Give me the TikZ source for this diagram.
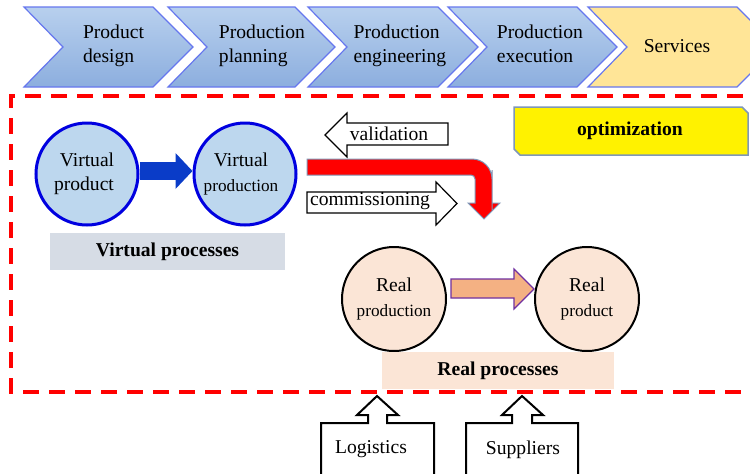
\documentclass[tikz,border=0pt]{standalone}
\usepackage{fontspec}
\setmainfont{Liberation Serif}
\usetikzlibrary{calc,arrows.meta}
\definecolor{chevtop}{HTML}{B8D0EE}
\definecolor{chevbot}{HTML}{8CAEDE}
\definecolor{chevline}{HTML}{6677EE}
\definecolor{servfill}{HTML}{FFE597}
\definecolor{vfill}{HTML}{BDD7EE}
\definecolor{vline}{HTML}{0000E0}
\definecolor{rfill}{HTML}{FBE5D6}
\definecolor{vproc}{HTML}{D6DCE5}
\definecolor{oarr}{HTML}{F4B183}
\definecolor{oline}{HTML}{7030A0}
\definecolor{barr}{HTML}{0A3CC8}
\definecolor{redfr}{HTML}{FF0000}
\definecolor{optline}{HTML}{7F97B8}
\begin{document}
\begin{tikzpicture}[x=1pt,y=-1pt,
  every node/.style={font=\fontsize{19.6}{24.5}\selectfont, inner sep=0pt},
  chev/.style={draw=chevline, line width=1.2pt, top color=chevtop, bottom color=chevbot},
  servchev/.style={draw=chevline, line width=1.2pt, fill=servfill},
  frame/.style={draw=redfr, line width=4.5pt, dash pattern=on 16pt off 10pt},
  vcirc/.style={circle, draw=vline, line width=3pt, fill=vfill, minimum size=102pt, align=center},
  rcirc/.style={circle, draw=black, line width=2pt, fill=rfill, minimum size=104pt, align=center},
  bluearr/.style={draw=barr, line width=18pt, -{Triangle[length=17pt,width=35pt]}},
  warrow/.style={draw=black, line width=1.2pt, fill=white},
  redbend/.style={draw=optline, line width=1pt, fill=red},
  orarrow/.style={draw=oline, line width=1.2pt, fill=oarr},
  optbox/.style={draw=optline, line width=1.5pt, fill=yellow},
  lblbox/.style={minimum width=#1, minimum height=37pt},
  callout/.style={draw=black, line width=2pt, fill=white}
]
\clip (0,0) rectangle (750,474);
\fill[white] (0,0) rectangle (750,474);

% process chevrons
\draw[chev] (24,7) -- ++(129,0) -- ++(40,40) -- ++(-40,40) -- ++(-129,0) -- ++(39,-40) -- cycle;
\draw[chev] (168,7) -- ++(127,0) -- ++(40,40) -- ++(-40,40) -- ++(-127,0) -- ++(39,-40) -- cycle;
\draw[chev] (308,7) -- ++(130,0) -- ++(40,40) -- ++(-40,40) -- ++(-130,0) -- ++(39,-40) -- cycle;
\draw[chev] (448,7) -- ++(129,0) -- ++(40,40) -- ++(-40,40) -- ++(-129,0) -- ++(39,-40) -- cycle;
\draw[servchev] (588,7) -- ++(149,0) -- ++(40,40) -- ++(-40,40) -- ++(-149,0) -- ++(39,-40) -- cycle;

\node[align=left] (t1) at (113.5,45.8) {Product\\design};
\node[align=left] (t2) at (262,45.8) {Production\\planning};
\node[align=left] (t3) at (400,45.8) {Production\\engineering};
\node[align=left] (t4) at (540,44) {Production\\execution};
\node (t5) at (677,45.7) {Services};

% dashed frame
\draw[frame] (743,96) -- (11,96) -- (11,392) -- (741,392);

% virtual processes
\node[vcirc] (vp) at (87,174) {Virtual\\product\hspace*{6pt}};
\node[vcirc] (vprod) at (245,174) {Virtual\hspace*{8pt}\\{\fontsize{17.2}{20}\selectfont production}\hspace*{8pt}};
\draw[bluearr] ($(vp.east)+(0,-3)$) -- ($(vprod.west)+(0,-3)$);
\node[lblbox=235pt, fill=vproc] (vpl) at (167.5,251.5) {\textbf{Virtual processes}};

% validation / commissioning
\draw[warrow] (325,135) -- (347,113) -- (347,123) -- (448,123) -- (448,145) -- (347,145) -- (347,157) -- cycle;
\node (val) at (389,134) {validation};
\draw[redbend] (307,159) -- (470,159) [rounded corners=20pt] -- (492,159) -- (492,190) [sharp corners] -- (492,203) -- (500,203) -- (484,219) -- (468,203) -- (475,203) -- (475,186) [rounded corners=4pt] -- (475,175) -- (465,175) [sharp corners] -- (307,175) -- cycle;
\draw[warrow] (307,192) -- (436,192) -- (436,182) -- (457,203.5) -- (436,225) -- (436,213) -- (307,213) -- cycle;
\node (com) at (370,201) {commissioning};

% optimization
\draw[optbox] (514,107) -- (742,107) -- (748,113) -- (748,155) -- (520,155) -- (514,149) -- cycle;
\node (opt) at (630,131) {\textbf{optimization}};

% real processes
\node[rcirc] (rpn) at (394,299) {Real\\{\fontsize{17.2}{20}\selectfont production}};
\node[rcirc] (rpt) at (587,299) {Real\\{\fontsize{17.2}{20}\selectfont product}};
\draw[orarrow] ($(rpn.east)+(4,-20)$) -- ($(rpt.west)+(-20,-20)$) -- ($(rpt.west)+(-20,-30)$) -- ($(rpt.west)+(0,-10)$) -- ($(rpt.west)+(-20,10)$) -- ($(rpt.west)+(-20,-1)$) -- ($(rpn.east)+(4,-1)$) -- cycle;
\node[lblbox=232pt, fill=rfill] (rpl) at (498,370.5) {\textbf{Real processes}};

% logistics / suppliers
\draw[callout] (321,480) -- (321,423) -- (368,423) -- (368,415) -- (357,415) -- (377,396) -- (398,415) -- (387,415) -- (387,423) -- (434,423) -- (434,480);
\node (log) at (371,449.5) {Logistics};
\draw[callout] (466,480) -- (466,423) -- (512,423) -- (512,415) -- (502,415) -- (522,396) -- (543,415) -- (532,415) -- (532,423) -- (578,423) -- (578,480);
\node (sup) at (523,449.5) {Suppliers};
\end{tikzpicture}
\end{document}
